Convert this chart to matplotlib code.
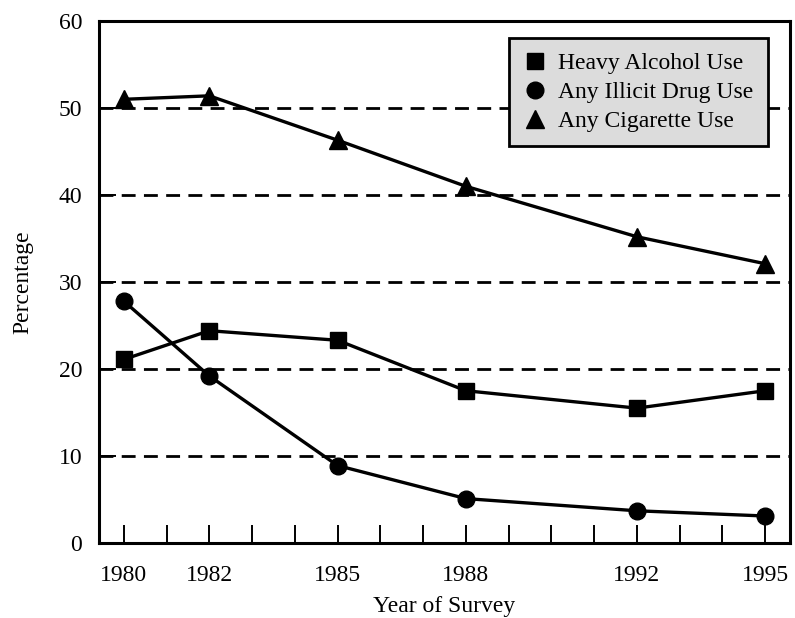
import numpy as np
import matplotlib.pyplot as plt
from matplotlib.ticker import MultipleLocator

years = [1980, 1982, 1985, 1988, 1992, 1995]
alcohol = [21.1, 24.4, 23.3, 17.5, 15.5, 17.5]
drugs = [27.8, 19.2, 8.9, 5.1, 3.7, 3.1]
cigarettes = [51.0, 51.4, 46.3, 41.0, 35.2, 32.1]

plt.rcParams["font.family"] = ["Liberation Serif", "DejaVu Serif"]

fig = plt.figure(figsize=(7.95, 6.18), dpi=100)
ax = fig.add_axes([0.1245, 0.1214, 0.8692, 0.8446])

for y in range(10, 60, 10):
    ax.axhline(y, color="black", lw=2, ls=(0, (5, 3)), zorder=1)

ax.plot(years, alcohol, color="black", lw=2.4, marker="s", ms=12,
        label="Heavy Alcohol Use", zorder=3)
ax.plot(years, drugs, color="black", lw=2.4, marker="o", ms=12,
        label="Any Illicit Drug Use", zorder=3)
ax.plot(years, cigarettes, color="black", lw=2.4, marker="^", ms=13,
        label="Any Cigarette Use", zorder=3)

ax.set_xlim(1979.42, 1995.58)
ax.set_ylim(0, 60)
ax.set_xticks(years)
ax.xaxis.set_minor_locator(MultipleLocator(1))
ax.set_yticks(range(0, 61, 10))
ax.tick_params(axis="both", which="both", direction="in", labelsize=17,
               width=1.4, top=False, right=False)
ax.tick_params(axis="x", which="both", length=13, pad=16)
ax.tick_params(axis="y", length=12, pad=12)
for s in ax.spines.values():
    s.set_linewidth(2.2)

ax.set_xlabel("Year of Survey", fontsize=17, labelpad=7)
ax.set_ylabel("Percentage", fontsize=17, labelpad=18)

leg = ax.legend(loc="upper right", bbox_to_anchor=(0.968, 0.967), fontsize=17,
                frameon=True, fancybox=False, handlelength=1.0,
                handletextpad=0.5, borderpad=0.6, labelspacing=0.32,
                borderaxespad=0)
leg.get_frame().set_facecolor("#dcdcdc")
leg.get_frame().set_edgecolor("black")
leg.get_frame().set_linewidth(2)
leg.get_frame().set_alpha(1)
for h in leg.legend_handles:
    h.set_linestyle("none")

fig.savefig("out.png", dpi=100)
